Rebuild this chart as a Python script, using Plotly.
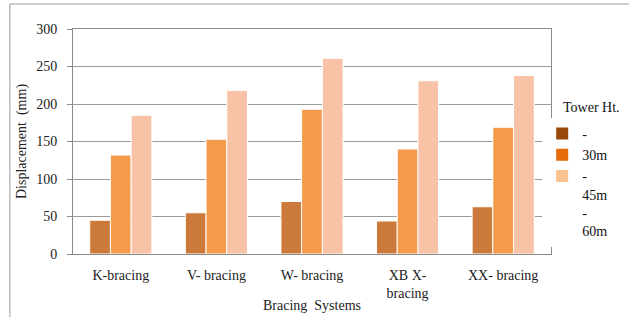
import plotly.graph_objects as go

categories = ["K-bracing", "V- bracing", "W- bracing", "XB X-<br>bracing", "XX- bracing"]
ht30 = [45, 55, 70, 44, 63]
ht45 = [132, 153, 193, 140, 169]
ht60 = [185, 218, 261, 231, 238]
legend_labels = ["-", "30m", "-<br>45m<br>-<br>60m"]

bar_colors = ["#CB7A3B", "#F5994A", "#F8C2A6"]
legend_colors = ["#984807", "#E46C0A", "#FAC090"]
series = [ht30, ht45, ht60]
groups = ["a", "b", "c"]

FONT = "Liberation Serif"
fig = go.Figure()
for vals, col, g in zip(series, bar_colors, groups):
    fig.add_trace(go.Bar(x=categories, y=vals, offsetgroup=g,
                         marker=dict(color=col, line=dict(color="white", width=1)),
                         showlegend=False))
for lab, col, g in zip(legend_labels, legend_colors, groups):
    fig.add_trace(go.Bar(x=[categories[0]], y=[None], name=lab, offsetgroup=g,
                         marker=dict(color=col, line=dict(width=0)), showlegend=True))

fig.update_layout(
    width=629, height=317,
    margin=dict(l=73, r=78, t=29, b=63, autoexpand=False),
    paper_bgcolor="white", plot_bgcolor="white",
    barmode="group", bargap=0.35, bargroupgap=0.0,
    font=dict(family=FONT, size=14, color="#222"),
    legend=dict(xref="container", yref="container", x=0.862, y=0.628,
                xanchor="left", yanchor="top", valign="top",
                font=dict(size=14, family=FONT, color="#111"), tracegroupgap=0, itemwidth=30),
    xaxis=dict(showline=True, linecolor="#8C8C8C", linewidth=1, mirror=True, automargin=False,
               ticks="", ticklabelstandoff=8, tickfont=dict(family=FONT, size=14)),
    yaxis=dict(range=[0, 300], dtick=50, showgrid=True, gridcolor="#9A9A9A", gridwidth=1,
               showline=True, linecolor="#8C8C8C", linewidth=1, mirror=True, automargin=False,
               ticks="outside", ticklen=5, tickcolor="#8C8C8C", ticklabelstandoff=7,
               zeroline=False, tickfont=dict(family=FONT, size=14),
               title=dict(text="Displacement  (mm)", standoff=6, font=dict(size=14, family=FONT))),
    annotations=[
        dict(text="Tower Ht.", xref="paper", yref="paper", x=1.021, y=0.653,
             xanchor="left", yanchor="middle", showarrow=False, font=dict(size=14, family=FONT, color="#111")),
        dict(text="Bracing  Systems", xref="paper", yref="paper", x=0.5, y=-0.2267,
             xanchor="center", yanchor="middle", showarrow=False, font=dict(size=14, family=FONT)),
    ],
    shapes=[dict(type="rect", xref="paper", yref="paper", x0=-0.132, x1=1.2, y0=-0.4, y1=1.111,
                 line=dict(color="#9A9A9A", width=1), fillcolor="rgba(0,0,0,0)", layer="below")],
)
fig.write_html("out.html", config={"displayModeBar": False},
               post_script="document.body.style.margin='0px';document.body.style.overflow='hidden';")
